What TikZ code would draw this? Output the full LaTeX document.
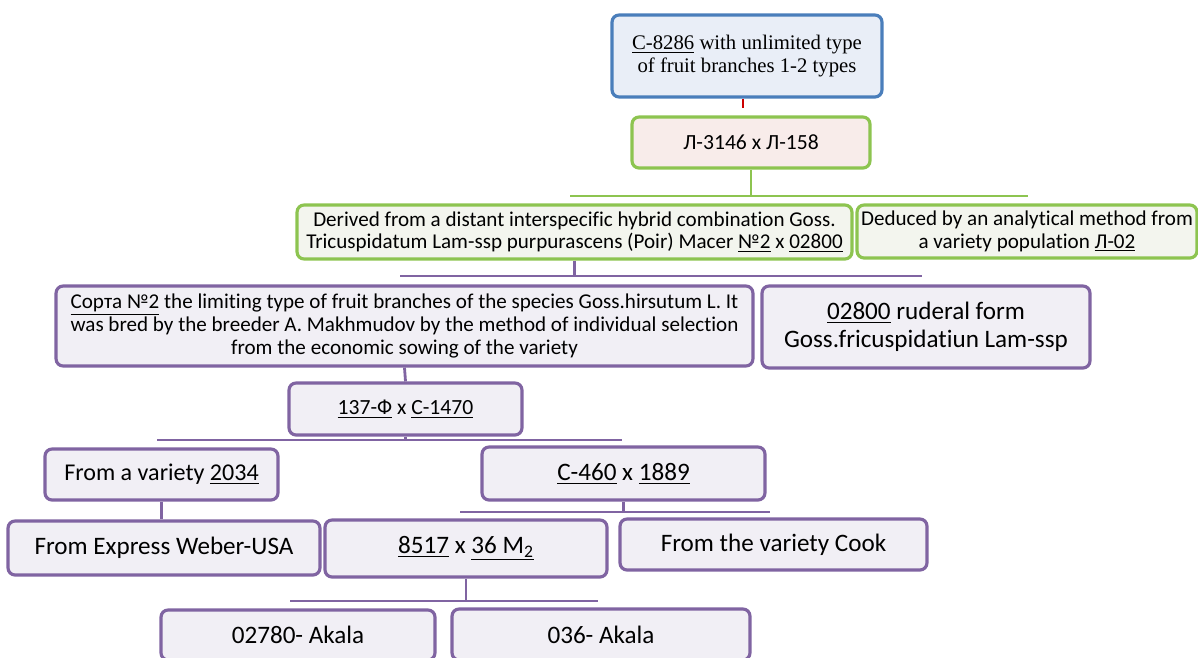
\documentclass[tikz,border=0pt]{standalone}
\usepackage{fontspec}
\setmainfont[Ligatures=NoCommon]{Carlito}
\newfontfamily\timesfont{Liberation Serif}
\definecolor{bluebd}{HTML}{4A7EBB}
\definecolor{bluefl}{HTML}{E9EEF7}
\definecolor{greenbd}{HTML}{8DC450}
\definecolor{greenfl}{HTML}{F3F5EE}
\definecolor{pinkfl}{HTML}{F8ECEA}
\definecolor{purplebd}{HTML}{8064A2}
\definecolor{purplefl}{HTML}{F1EFF5}
\begin{document}
\begin{tikzpicture}[x=0.02cm, y=-0.02cm, main/.style = {draw, rounded corners=4pt, line width=1.8pt, align=center, inner sep=1pt},
				topbox/.style={main, draw=bluebd, fill=bluefl},
				greenbox/.style={main, draw=greenbd, fill=greenfl},
				purplebox/.style={main, draw=purplebd, fill=purplefl},
				gline/.style={draw=greenbd, line width=1.6pt},
				pline/.style={draw=purplebd, line width=1.6pt},
				small/.style={font=\fontsize{12}{12.7}\selectfont},
				large/.style={font=\fontsize{14.3}{16}\selectfont}]
				
				\useasboundingbox (0,0) rectangle (1198,657);
				
				\node[topbox, minimum width=5.4cm, minimum height=1.64cm, font=\timesfont\fontsize{11.8}{13}\selectfont] (top) at (747,56) {\underline{C-8286} with unlimited type\\of fruit branches 1-2 types};
				\node[greenbox, fill=pinkfl, small, font=\fontsize{12.3}{13}\selectfont, minimum width=4.76cm, minimum height=1.02cm] (l3146) at (751,142.5) {Л-3146 x Л-158};
				\node[greenbox, small, minimum width=11.1cm, minimum height=1.08cm] (derived) at (574.5,232) {Derived from a distant interspecific hybrid combination Goss.\\Tricuspidatum Lam-ssp purpurascens (Poir) Macer \underline{№2} x \underline{02800}};
				\node[greenbox, small, minimum width=6.8cm, minimum height=1.06cm] (deduced) at (1027,231.5) {Deduced by an analytical method from\\a variety population \underline{Л-02}};
				\node[purplebox, font=\fontsize{12}{13}\selectfont, minimum width=13.94cm, minimum height=1.6cm] (sorta) at (404.5,326) {\underline{Сорта №2} the limiting type of fruit branches of the species Goss.hirsutum L. It\\was bred by the breeder A. Makhmudov by the method of individual selection\\from the economic sowing of the variety};
				\node[purplebox, large, minimum width=6.56cm, minimum height=1.64cm] (ruderal) at (926,327) {\underline{02800} ruderal form\\Goss.fricuspidatiun Lam-ssp};
				\node[purplebox, font=\fontsize{12.3}{13}\selectfont, minimum width=4.66cm, minimum height=1.04cm] (cross137) at (405.5,409) {\underline{137-Ф} x \underline{С-1470}};
				\node[purplebox, font=\fontsize{13.7}{16}\selectfont, minimum width=4.66cm, minimum height=1.02cm] (v2034) at (161.5,474.5) {From a variety \underline{2034}};
				\node[purplebox, large, minimum width=5.66cm, minimum height=1.06cm] (c460) at (623.5,473.5) {\underline{С-460} x \underline{1889}};
				\node[purplebox, large, minimum width=6.24cm, minimum height=1.08cm] (weber) at (164,548) {From Express Weber-USA};
				\node[purplebox, large, minimum width=5.64cm, minimum height=1.14cm] (m2) at (466,548.5) {\underline{8517} x \underline{36 M\textsubscript{2}}};
				\node[purplebox, large, minimum width=6.14cm, minimum height=1.02cm] (cook) at (773.5,544.5) {From the variety Cook};
				\node[purplebox, large, minimum width=5.48cm, minimum height=1.0cm] (akala1) at (298,635) {02780- Akala};
				\node[purplebox, large, minimum width=5.96cm, minimum height=1.02cm] (akala2) at (601,634.5) {036- Akala};
				
				% tree lines
				\coordinate (redend) at (743,108);
				\coordinate (gL) at (570,196);
				\coordinate (gR) at (1028,196);
				\coordinate (pL) at (400,276);
				\coordinate (pR) at (922,276);
				\coordinate (qL) at (157,440);
				\coordinate (qR) at (622,440);
				\coordinate (rL) at (460,512);
				\coordinate (rR) at (770,512);
				\coordinate (sL) at (290,601);
				\coordinate (sR) at (598,601);
				
				\draw[red!80!black, line width=1.6pt] (top.south -| redend) -- (redend);
				\draw[gline] (l3146.south) -- (l3146 |- gL);
				\draw[gline] (gL) -- (gR);
				\draw[pline] (derived.south) -- (derived |- pL);
				\draw[pline] (pL) -- (pR);
				\draw[pline] (sorta.south) -- (cross137.north);
				\draw[pline] (cross137.south) -- (cross137 |- qL);
				\draw[pline] (qL) -- (qR);
				\draw[pline] (v2034.south) -- (v2034.south |- weber.north);
				\draw[pline] (c460.south) -- (c460 |- rL);
				\draw[pline, line width=1.2pt] (rL) -- (rR);
				\draw[pline] (m2.south) -- (m2 |- sL);
				\draw[pline] (sL) -- (sR);
			\end{tikzpicture}
\end{document}
